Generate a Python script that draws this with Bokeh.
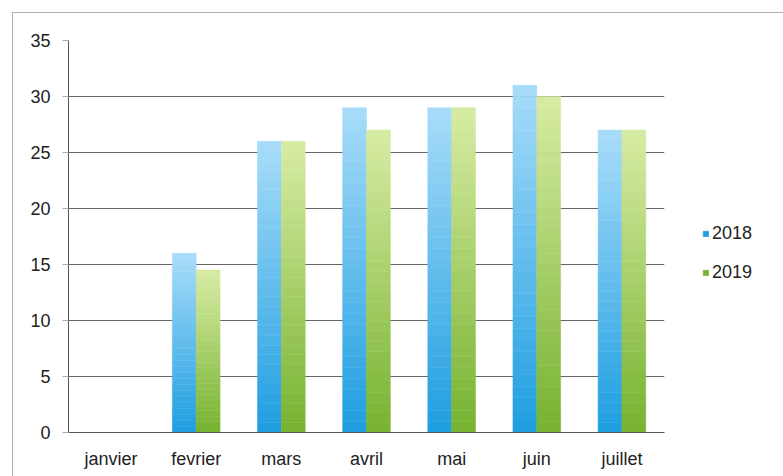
from bokeh.plotting import figure
from bokeh.models import ColumnDataSource, Legend, LegendItem, FixedTicker
from bokeh.transform import dodge
from bokeh.embed import file_html
from bokeh.resources import INLINE

# Monthly values per year
months = ["janvier", "fevrier", "mars", "avril", "mai", "juin", "juillet"]
values_2018 = [0, 16, 26, 29, 29, 31, 27]
values_2019 = [0, 14.5, 26, 27, 29, 30, 27]
series_names = ["2018", "2019"]
y_ticks = [0, 5, 10, 15, 20, 25, 30, 35]

# Gradient ends (bottom colour, top colour) for each series
gradients = {
    "2018": ((30, 158, 224), (168, 220, 249)),
    "2019": ((118, 178, 48), (216, 236, 164)),
}
N_SLICES = 30
FONT = "Liberation Sans"


def mix(c0, c1, t):
    return "#%02x%02x%02x" % tuple(int(round(a + (b - a) * t)) for a, b in zip(c0, c1))


def sliced_source(vals, name):
    lo, hi = gradients[name]
    cat, bottom, top, color = [], [], [], []
    for m, v in zip(months, vals):
        if v <= 0:
            continue
        for k in range(N_SLICES):
            cat.append(m)
            bottom.append(v * k / N_SLICES)
            top.append(v * (k + 1) / N_SLICES)
            color.append(mix(lo, hi, (k + 0.5) / N_SLICES))
    return ColumnDataSource(dict(cat=cat, bottom=bottom, top=top, color=color))


p = figure(
    x_range=months, y_range=(0, 35),
    frame_width=596, frame_height=392,
    output_backend="svg", toolbar_location=None,
    min_border_left=55, min_border_right=108,
    min_border_top=27, min_border_bottom=45,
)
p.margin = (12, 0, 0, 12)
p.styles = {"border-top": "1px solid #b0b0b0", "border-left": "1px solid #b0b0b0"}
p.outline_line_color = None
p.background_fill_color = "white"
p.border_fill_color = "white"

renderers = []
for name, vals, off in [("2018", values_2018, -0.14), ("2019", values_2019, 0.14)]:
    src = sliced_source(vals, name)
    r = p.vbar(x=dodge("cat", off, range=p.x_range), bottom="bottom", top="top",
               width=0.28, fill_color="color", line_color="color", line_width=0.5,
               source=src)
    renderers.append(r)

# Axes
p.yaxis.ticker = FixedTicker(ticks=y_ticks)
p.yaxis.axis_line_color = "#555555"
p.yaxis.major_tick_line_color = "#aaaaaa"
p.yaxis.major_tick_out = 6
p.yaxis.major_tick_in = 0
p.yaxis.minor_tick_line_color = None
p.yaxis.major_label_standoff = 12
p.xaxis.axis_line_color = "#555555"
p.xaxis.major_tick_line_color = None
p.xaxis.major_label_standoff = 10
for ax in (p.xaxis, p.yaxis):
    ax.major_label_text_font = FONT
    ax.major_label_text_font_size = "18px"
    ax.major_label_text_color = "#222222"

p.xgrid.grid_line_color = None
p.ygrid.grid_line_color = "#666666"
p.ygrid.grid_line_width = 1

# Legend in the right-hand panel; a blank title row nudges the entries down
legend = Legend(
    items=[LegendItem(label=n, renderers=[r]) for n, r in zip(series_names, renderers)],
    location="center_left", border_line_color=None, background_fill_color=None,
    background_fill_alpha=0, border_line_alpha=0,
    title=" ", title_text_font_size="14px", title_standoff=18,
    label_text_font=FONT, label_text_font_size="18px",
    label_text_color="#222222", glyph_width=7, glyph_height=7,
    spacing=18, label_standoff=3, padding=0, margin=38,
)
p.add_layout(legend, "right")

open("out.html", "w").write(file_html(p, INLINE))
